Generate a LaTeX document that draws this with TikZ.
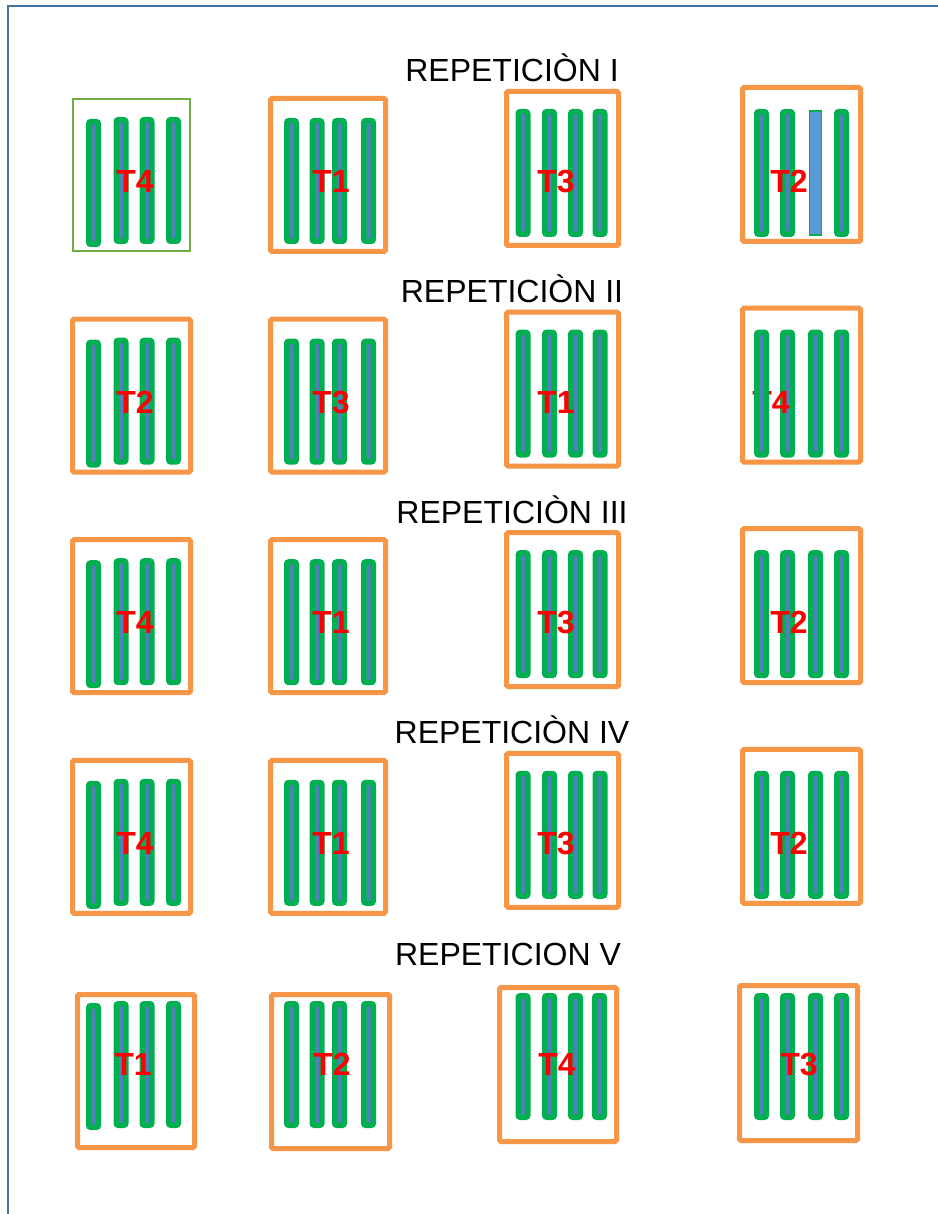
\documentclass[tikz,border=0pt]{standalone}
\usepackage{fontspec}
\setmainfont{Liberation Sans}
\definecolor{boxorange}{RGB}{247,150,70}
\definecolor{stripgreen}{RGB}{0,176,80}
\definecolor{stripblue}{RGB}{79,129,189}
\definecolor{lightblue}{RGB}{91,155,213}
\definecolor{thingreen}{RGB}{112,173,71}
\definecolor{framecol}{RGB}{68,114,168}
\definecolor{labelred}{RGB}{255,0,0}
\tikzset{
  orangebox/.style={draw=boxorange,line width=5pt,rounded corners=1.5pt},
  greenbox/.style={draw=thingreen,line width=2pt},
  stripst/.style={draw=stripgreen,fill=stripblue,line width=5.5pt,rounded corners=2pt},
  specialstrip/.style={draw=stripgreen,fill=lightblue,line width=1.5pt},
  tlabel/.style={text=labelred,font=\fontsize{32}{32}\selectfont\bfseries,anchor=base,inner sep=0pt},
  replabel/.style={text=black,font=\fontsize{32}{32}\selectfont,anchor=base,inner sep=0pt},
  framest/.style={draw=framecol,line width=2pt}
}
\newcommand\mystrip[3]{\draw[stripst] ({#1-4.75},{#2+2.75}) rectangle ({#1+4.75},{#3-2.75});}
% column groups: #1 = vertical offset
\newcommand\stripsA[1]{\mystrip{93.5}{119+#1}{247+#1}\mystrip{121}{117+#1}{244+#1}\mystrip{147}{117+#1}{244+#1}\mystrip{173.5}{117+#1}{244+#1}}
\newcommand\stripsB[1]{\mystrip{291.5}{118+#1}{244+#1}\mystrip{317}{118+#1}{244+#1}\mystrip{339.5}{118+#1}{244+#1}\mystrip{368.5}{118+#1}{244+#1}}
\newcommand\stripsC[1]{\mystrip{523}{109+#1}{237+#1}\mystrip{549.5}{109+#1}{237+#1}\mystrip{575.5}{109+#1}{237+#1}\mystrip{600}{109+#1}{237+#1}}
\newcommand\stripsD[1]{\mystrip{761.5}{109+#1}{237+#1}\mystrip{787.5}{109+#1}{237+#1}\mystrip{815.5}{109+#1}{237+#1}\mystrip{841.5}{109+#1}{237+#1}}
\newcommand\boxA[1]{\draw[orangebox] (72.5,{98.5+#1}) rectangle (190.5,{251.5+#1});}
\newcommand\boxB[1]{\draw[orangebox] (270.5,{98.5+#1}) rectangle (385.5,{251.5+#1});}
\newcommand\boxC[1]{\draw[orangebox] (506.5,{91.5+#1}) rectangle (618.5,{245.5+#1});}
\newcommand\boxD[1]{\draw[orangebox] (742.5,{87.5+#1}) rectangle (860.5,{241.5+#1});}
\begin{document}
\begin{tikzpicture}[x=1pt,y=-1pt]
\useasboundingbox (0,0) rectangle (937,1214);
\fill[white] (0,0) rectangle (937,1214);
\draw[framest] (8,1215) -- (8,6) -- (938,6);

% ---------- REPETICION I ----------
\node[replabel] (h1) at (512,82) {REPETICIÒN I};
\draw[greenbox] (73,99) rectangle (190,251);
\stripsA{0}
\node[tlabel] (r1a) at (135,192.5) {T4};
\boxB{0}\stripsB{0}
\node[tlabel] (r1b) at (331,192.5) {T1};
\boxC{0}\stripsC{0}
\node[tlabel] (r1c) at (556,192.5) {T3};
\boxD{0}
\mystrip{761.5}{109}{237}\mystrip{787.5}{109}{237}\mystrip{841.5}{109}{237}
\draw[specialstrip] (809.5,111) rectangle (821.5,235);
\node[tlabel] (r1d) at (789,192.5) {T2};

% ---------- REPETICION II ----------
\node[replabel] (h2) at (512,302.6) {REPETICIÒN II};
\boxA{220.6}\stripsA{220.6}
\node[tlabel] (r2a) at (135,413.1) {T2};
\boxB{220.6}\stripsB{220.6}
\node[tlabel] (r2b) at (331,413.1) {T3};
\boxC{220.6}\stripsC{220.6}
\node[tlabel] (r2c) at (556,413.1) {T1};
\boxD{220.6}
\mystrip{787.5}{329.6}{457.6}\mystrip{815.5}{329.6}{457.6}\mystrip{841.5}{329.6}{457.6}
\node[tlabel] (r2d) at (771,413.1) {T4};
\mystrip{761.5}{329.6}{457.6}

% ---------- REPETICION III ----------
\node[replabel] (h3) at (512,523.2) {REPETICIÒN III};
\boxA{441.2}\stripsA{441.2}
\node[tlabel] (r3a) at (135,633.7) {T4};
\boxB{441.2}\stripsB{441.2}
\node[tlabel] (r3b) at (331,633.7) {T1};
\boxC{441.2}\stripsC{441.2}
\node[tlabel] (r3c) at (556,633.7) {T3};
\boxD{441.2}\stripsD{441.2}
\node[tlabel] (r3d) at (789,633.7) {T2};

% ---------- REPETICION IV ----------
\node[replabel] (h4) at (512,743.8) {REPETICIÒN IV};
\boxA{661.8}\stripsA{661.8}
\node[tlabel] (r4a) at (135,854.3) {T4};
\boxB{661.8}\stripsB{661.8}
\node[tlabel] (r4b) at (331,854.3) {T1};
\boxC{661.8}\stripsC{661.8}
\node[tlabel] (r4c) at (556,854.3) {T3};
\boxD{661.8}\stripsD{661.8}
\node[tlabel] (r4d) at (789,854.3) {T2};

% ---------- REPETICION V ----------
\node[replabel] (h5) at (508,965.5) {REPETICION V};
\draw[orangebox] (77.5,994.5) rectangle (194.5,1147.5);
\mystrip{93.5}{1003}{1130}\mystrip{121}{1001}{1128}\mystrip{147}{1001}{1128}\mystrip{173.5}{1001}{1128}
\node[tlabel] (r5a) at (133,1075.5) {T1};
\draw[orangebox] (271.5,994.5) rectangle (389.5,1148.5);
\mystrip{291.5}{1001}{1128}\mystrip{317}{1001}{1128}\mystrip{339.5}{1001}{1128}\mystrip{368.5}{1001}{1128}
\node[tlabel] (r5b) at (332,1075.5) {T2};
\draw[orangebox] (499.5,987.5) rectangle (616.5,1141.5);
\mystrip{523}{993}{1120}\mystrip{549.5}{993}{1120}\mystrip{575.5}{993}{1120}\mystrip{599.5}{993}{1120}
\node[tlabel] (r5c) at (557,1075.5) {T4};
\draw[orangebox] (739.5,985.5) rectangle (857.5,1140.5);
\mystrip{761.5}{993}{1120}\mystrip{787.5}{993}{1120}\mystrip{815.5}{993}{1120}\mystrip{841.5}{993}{1120}
\node[tlabel] (r5d) at (799,1075.5) {T3};
\end{tikzpicture}
\end{document}
